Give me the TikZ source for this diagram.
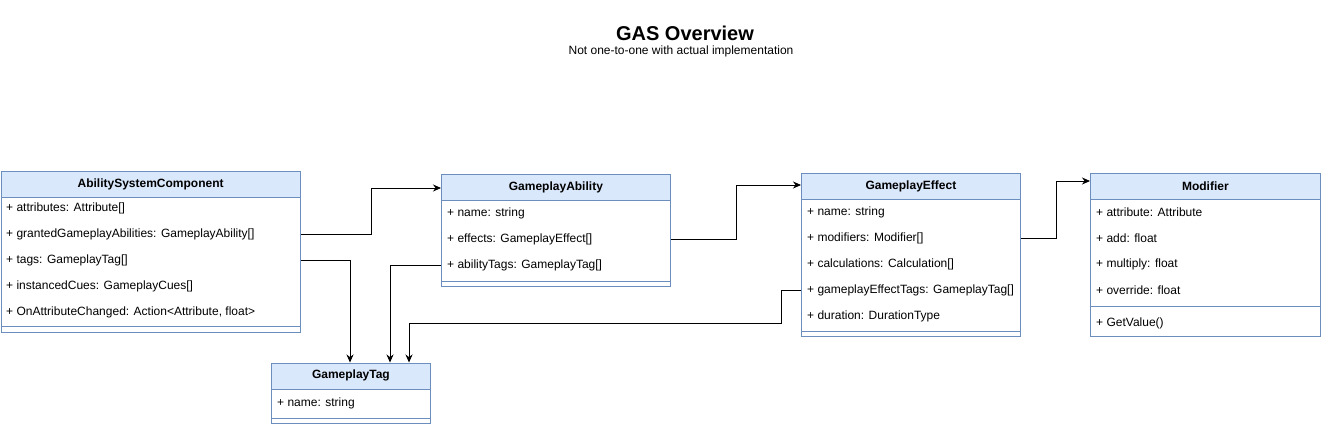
\documentclass[tikz,border=0pt]{standalone}
\usepackage{fontspec}
\setmainfont{Liberation Sans}
\usetikzlibrary{arrows.meta}
\definecolor{umlstroke}{HTML}{6C8EBF}
\definecolor{umlfill}{HTML}{DAE8FC}
\begin{document}
\begin{tikzpicture}[x=1pt,y=-1pt,
  cbox/.style={draw=umlstroke, fill=white, line width=0.8pt, anchor=north west, inner sep=0pt},
  chead/.style={draw=umlstroke, fill=umlfill, line width=0.8pt, anchor=north west, inner sep=0pt, minimum height=26pt, font=\fontsize{12}{14}\selectfont\bfseries},
  crow/.style={anchor=west, inner sep=0pt, font=\fontsize{12}{14}\selectfont},
  csep/.style={draw=umlstroke, line width=0.8pt},
  conn/.style={draw=black, line width=0.8pt, -{Stealth[length=8pt,width=7pt]}},
  title/.style={font=\fontsize{20}{24}\selectfont\bfseries},
  subtitle/.style={font=\fontsize{12}{14}\selectfont}]
\useasboundingbox (0,0) rectangle (1321,424);

\node[title] (t) at (685,33) {GAS Overview};
\node[subtitle] (st) at (681,51) {Not one-to-one with actual implementation};

% AbilitySystemComponent
\node[cbox, minimum width=299.5pt, minimum height=161pt] (asc) at (0.5,170.5) {};
\node[chead, minimum width=299.5pt] (asch) at (0.5,170.5) {AbilitySystemComponent};
\node[crow] (asc1) at (6,208) {+ attributes: Attribute[]};
\node[crow] (asc2) at (6,234) {+ grantedGameplayAbilities: GameplayAbility[]};
\node[crow] (asc3) at (6,260) {+ tags: GameplayTag[]};
\node[crow] (asc4) at (6,286) {+ instancedCues: GameplayCues[]};
\node[crow] (asc5) at (6,312) {+ OnAttributeChanged: Action<Attribute, float>};
\draw[csep] (0.5,326.5) -- (300,326.5);

% GameplayAbility
\node[cbox, minimum width=229pt, minimum height=112pt] (ga) at (441,173.5) {};
\node[chead, minimum width=229pt] (gah) at (441,173.5) {GameplayAbility};
\node[crow] (ga1) at (447,213) {+ name: string};
\node[crow] (ga2) at (447,239) {+ effects: GameplayEffect[]};
\node[crow] (ga3) at (447,265) {+ abilityTags: GameplayTag[]};
\draw[csep] (441,281) -- (670,281);

% GameplayEffect
\node[cbox, minimum width=219pt, minimum height=163pt] (ge) at (801,172.5) {};
\node[chead, minimum width=219pt] (geh) at (801,172.5) {GameplayEffect};
\node[crow] (ge1) at (807,212) {+ name: string};
\node[crow] (ge2) at (807,238) {+ modifiers: Modifier[]};
\node[crow] (ge3) at (807,264) {+ calculations: Calculation[]};
\node[crow] (ge4) at (807,290) {+ gameplayEffectTags: GameplayTag[]};
\node[crow] (ge5) at (807,316) {+ duration: DurationType};
\draw[csep] (801,331) -- (1020,331);

% Modifier
\node[cbox, minimum width=230pt, minimum height=163pt] (mo) at (1090,172.5) {};
\node[chead, minimum width=230pt] (moh) at (1090,172.5) {Modifier};
\node[crow] (mo1) at (1096,212) {+ attribute: Attribute};
\node[crow] (mo2) at (1096,238) {+ add: float};
\node[crow] (mo3) at (1096,264) {+ multiply: float};
\node[crow] (mo4) at (1096,290) {+ override: float};
\draw[csep] (1090,306) -- (1320,306);
\node[crow] (mo5) at (1096,323) {+ GetValue()};

% GameplayTag
\node[cbox, minimum width=159pt, minimum height=60pt] (gt) at (271,362.5) {};
\node[chead, minimum width=159pt] (gth) at (271,362.5) {GameplayTag};
\node[crow] (gt1) at (277,403) {+ name: string};
\draw[csep] (271,418) -- (430,418);

% connectors
\coordinate (c1) at (371,188);
\draw[conn] (asc.east |- asc2) -| (c1) -- (ga.west |- c1);
\coordinate (c2) at (350,0);
\draw[conn] (asc.east |- asc3) -| (c2 |- gt.north);
\coordinate (c3) at (390,0);
\draw[conn] (ga.west |- ga3) -| (c3 |- gt.north);
\coordinate (c4) at (736,185);
\draw[conn] (ga.east |- ga2) -| (c4) -- (ge.west |- c4);
\coordinate (c5) at (781,323);
\coordinate (c6) at (409,0);
\draw[conn] (ge.west |- ge4) -| (c5) -| (c6 |- gt.north);
\coordinate (c7) at (1056,181);
\draw[conn] (ge.east |- ge2) -| (c7) -- (mo.west |- c7);
\end{tikzpicture}
\end{document}
